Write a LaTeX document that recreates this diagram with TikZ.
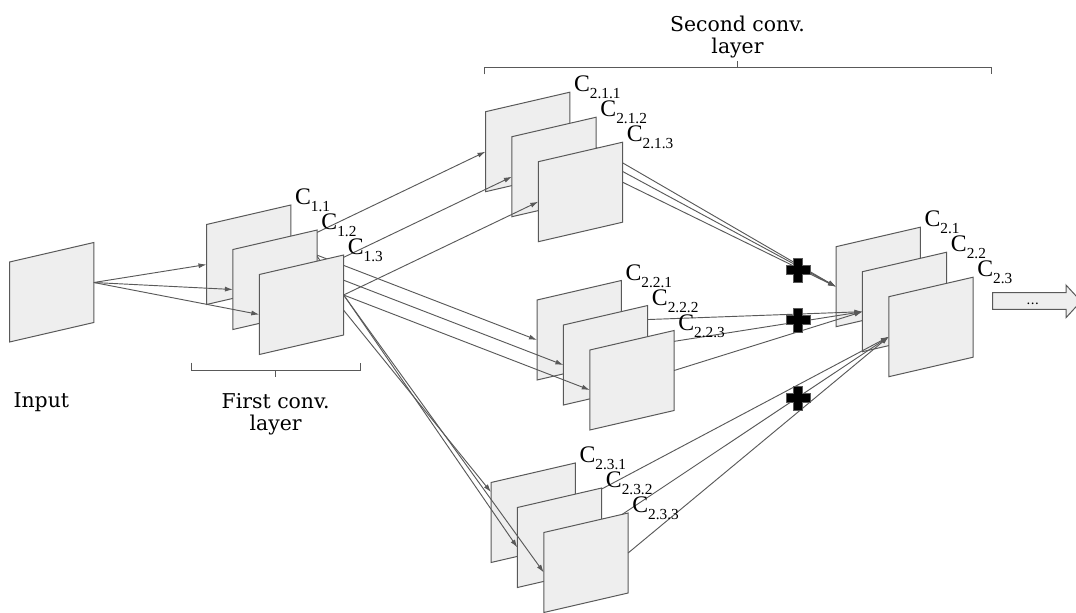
\documentclass[tikz,border=0pt]{standalone}
\usepackage{fontspec}
\setmainfont{DejaVu Serif}
\newfontfamily\labfont{Liberation Serif}
\usetikzlibrary{arrows.meta,calc}

\definecolor{sheetfill}{RGB}{238,238,238}
\definecolor{inkgray}{RGB}{89,89,89}

\tikzset{
  sheet/.style={draw=inkgray, fill=sheetfill, line width=0.75pt, line join=miter},
  link/.style={draw=inkgray, line width=0.7pt, -{Latex[length=6pt,width=3.8pt]}},
  brace/.style={draw=inkgray, line width=0.75pt},
  clabel/.style={anchor=base west, inner sep=0pt, font=\labfont},
  caption/.style={font=\fontsize{15.3}{16.5}\selectfont, inner sep=0pt, align=center},
  plusmark/.style={fill=black, draw=inkgray, line width=0.5pt},
}

% feature-map sheet: name, left x, top-left y (pixel units, y downwards)
\newcommand\sheetat[3]{%
  \coordinate (#1-nw) at (#2,#3);
  \coordinate (#1-ne) at ({#2+84.3},{#3-19.5});
  \coordinate (#1-se) at ({#2+84.3},{#3+60.5});
  \coordinate (#1-sw) at (#2,{#3+80});
  \coordinate (#1-w) at (#2,{#3+40});
  \coordinate (#1-e) at ({#2+84.3},{#3+20.5});
  \path[sheet] (#1-nw) -- (#1-ne) -- (#1-se) -- (#1-sw) -- cycle;
}
% channel label "C_sub" beside the top-right corner of a sheet
\newcommand\clab[1]{{\fontsize{17.8}{17.8}\selectfont C}{\fontsize{11.5}{11.5}\selectfont\raisebox{-5.25pt}{#1}}}
\newcommand\sheetlabel[2]{%
  \node[clabel] (#1-lab) at ($(#1-ne)+(4,-0.5)$) {\clab{#2}};
}
% summation mark
\newcommand\plusat[3]{%
  \coordinate (#1) at (#2,#3);
  \path[plusmark] (#1) ++(-4.5,-12) -- ++(9,0) -- ++(0,7.5) -- ++(7.5,0) -- ++(0,9)
    -- ++(-7.5,0) -- ++(0,7.5) -- ++(-9,0) -- ++(0,-7.5) -- ++(-7.5,0) -- ++(0,-9)
    -- ++(7.5,0) -- cycle;
}

\begin{document}
\begin{tikzpicture}[x=0.75pt, y=-0.75pt]
\useasboundingbox (0,0) rectangle (1076,612);

% output maps of the second layer
\sheetat{F1}{836}{246.7}
\sheetat{F2}{862.4}{271.7}
\sheetat{F3}{888.8}{296.7}

% input image
\sheetat{In}{9.5}{262}

% depth 1
\sheetat{A1}{206.5}{224.5}
\sheetat{T1}{485.5}{111.7}
\sheetat{M1}{537}{300}
\sheetat{B1}{491}{482.5}
\draw[link] (In-e) -- (A1-w);
\draw[link] (A1-e) -- (T1-w);
\draw[link] (A1-e) -- (M1-w);
\draw[link] (A1-e) -- ($(B1-nw)!0.12!(B1-sw)$);
\draw[link] (T1-e) -- (F1-w);
\draw[link] (M1-e) -- (F2-w);
\draw[link] (B1-e) -- (F3-w);

% depth 2
\sheetat{A2}{232.9}{249.5}
\sheetat{T2}{511.9}{136.7}
\sheetat{M2}{563.4}{325}
\sheetat{B2}{517.4}{507.5}
\draw[link] (In-e) -- (A2-w);
\draw[link] (A2-e) -- (T2-w);
\draw[link] (A2-e) -- (M2-w);
\draw[link] ($(A2-ne)!0.33!(A2-se)$) -- (B2-w);
\draw[link] (T2-e) -- (F1-w);
\draw[link] (M2-e) -- (F2-w);
\draw[link] (B2-e) -- (F3-w);

% depth 3
\sheetat{A3}{259.3}{274.5}
\sheetat{T3}{538.3}{161.7}
\sheetat{M3}{589.8}{350}
\sheetat{B3}{543.8}{532.5}
\draw[link] (In-e) -- (A3-w);
\draw[link] (A3-e) -- (T3-w);
\draw[link] (A3-e) -- (M3-w);
\draw[link] (A3-e) -- (B3-w);
\draw[link] (T3-e) -- (F1-w);
\draw[link] (M3-e) -- (F2-w);
\draw[link] (B3-e) -- (F3-w);

% sums
\plusat{sum1}{798.3}{270}
\plusat{sum2}{798.3}{320}
\plusat{sum3}{798.3}{398.3}

% channel labels
\sheetlabel{A1}{1.1}
\sheetlabel{A2}{1.2}
\sheetlabel{A3}{1.3}
\sheetlabel{T1}{2.1.1}
\sheetlabel{T2}{2.1.2}
\sheetlabel{T3}{2.1.3}
\sheetlabel{M1}{2.2.1}
\sheetlabel{M2}{2.2.2}
\sheetlabel{M3}{2.2.3}
\sheetlabel{B1}{2.3.1}
\sheetlabel{B2}{2.3.2}
\sheetlabel{B3}{2.3.3}
\sheetlabel{F1}{2.1}
\sheetlabel{F2}{2.2}
\sheetlabel{F3}{2.3}

% continuation arrow
\path[sheet] (992.7,292.7) -- (1066,292.7) -- (1066,285) -- (1081,301.3)
  -- (1066,317.7) -- (1066,309.3) -- (992.7,309.3) -- cycle;
\node[font=\fontsize{10}{10}\selectfont, anchor=base, inner sep=0pt] (more) at (1032.7,304.5) {...};

% layer brackets
\draw[brace] (191.7,362.5) -- (191.7,370) -- (360,370) -- (360,362.5);
\draw[brace] (275.5,370) -- (275.5,377);
\draw[brace] (484,74.3) -- (484,67) -- (991,67) -- (991,74.3);
\draw[brace] (737.5,67) -- (737.5,61);

% captions (base anchor sits on the last line)
\node[caption, anchor=base] (inputcap) at (41.3,407) {Input};
\node[caption, anchor=base] (firstcap) at (275.7,430) {First conv.\\layer};
\node[caption, anchor=base] (secondcap) at (737.5,53) {Second conv.\\layer};
\end{tikzpicture}
\end{document}
